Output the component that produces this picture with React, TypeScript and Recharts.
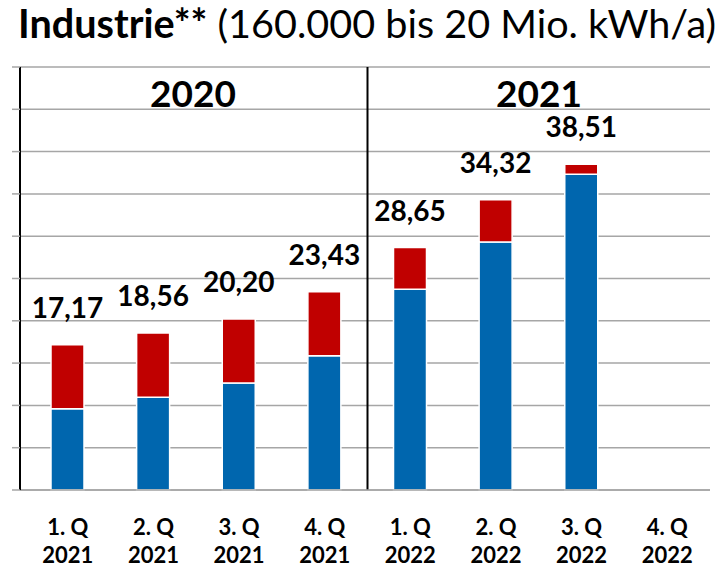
import { BarChart, Bar, XAxis, YAxis, CartesianGrid, ReferenceLine, LabelList } from "recharts";

const quarters = ["1. Q", "2. Q", "3. Q", "4. Q", "1. Q", "2. Q", "3. Q", "4. Q"];
const years = ["2021", "2021", "2021", "2021", "2022", "2022", "2022", "2022"];
const blueValues = [9.6, 10.96, 12.65, 15.88, 23.72, 29.31, 37.31, null];
const redValues = [7.57, 7.6, 7.55, 7.55, 4.93, 5.01, 1.2, null];
const totals = ["17,17", "18,56", "20,20", "23,43", "28,65", "34,32", "38,51", ""];
const periods = ["2020", "2021"];
const yTicks = [0, 5, 10, 15, 20, 25, 30, 35, 40, 45, 50];

const data = quarters.map((q, i) => ({
  cat: `${q} ${years[i]}`,
  quarter: q,
  year: years[i],
  blue: blueValues[i],
  red: redValues[i],
  total: totals[i],
}));

const FONT = "Lato, 'Open Sans', sans-serif";

const QuarterTick = (props) => {
  const { x, y, payload } = props;
  const row = data[payload.index] || data.find((d) => d.cat === payload.value);
  return (
    <text x={x} textAnchor="middle" fontFamily={FONT} fontWeight="bold" fontSize={22} fill="#000">
      <tspan x={x} y={y + 37}>{row.quarter}</tspan>
      <tspan x={x} y={y + 65}>{row.year}</tspan>
    </text>
  );
};

export default function App() {
  return (
    <div style={{ position: "absolute", left: 0, top: 0, width: 721, height: 566, background: "#fff" }}>
      <svg width={721} height={566} style={{ position: "absolute", left: 0, top: 0 }}>
        <text x={18} y={38} fontFamily={FONT} fontSize={39.6} fill="#000">
          <tspan fontWeight="bold">Industrie**</tspan>
          <tspan> (160.000 bis 20 Mio. kWh/a)</tspan>
        </text>
      </svg>
      <div style={{ position: "absolute", left: 0, top: 0 }}>
        <BarChart
          width={721}
          height={566}
          data={data}
          margin={{ top: 67, right: 11, bottom: 0, left: 0 }}
          barSize={33}
        >
          <CartesianGrid vertical={false} stroke="#a6a6a6" strokeWidth={1.5} />
          <XAxis
            dataKey="cat"
            height={76}
            padding={{ left: 5, right: 0 }}
            axisLine={{ stroke: "#a6a6a6", strokeWidth: 1.5 }}
            tickLine={false}
            tick={<QuarterTick />}
            interval={0}
          />
          <YAxis
            width={20}
            domain={[0, 50]}
            ticks={yTicks}
            tickSize={8}
            axisLine={{ stroke: "#000", strokeWidth: 2 }}
            tickLine={{ stroke: "#a6a6a6", strokeWidth: 1.5 }}
            tick={() => <g />}
          />
          <ReferenceLine x="4. Q 2021" position="end" stroke="#000" strokeWidth={2} />
          <Bar dataKey="blue" stackId="a" fill="#0066AE" stroke="#ffffff" strokeWidth={1.5} isAnimationActive={false} />
          <Bar dataKey="red" stackId="a" fill="#C00000" stroke="#ffffff" strokeWidth={1.5} isAnimationActive={false}>
            <LabelList
              dataKey="total"
              position="top"
              offset={27}
              fill="#000"
              fontFamily={FONT}
              fontWeight="bold"
              fontSize={28}
            />
          </Bar>
        </BarChart>
      </div>
      <svg width={721} height={566} style={{ position: "absolute", left: 0, top: 0, pointerEvents: "none" }}>
        <text x={193} y={107} textAnchor="middle" fontFamily={FONT} fontWeight="bold" fontSize={37} fill="#000">
          {periods[0]}
        </text>
        <text x={539} y={107} textAnchor="middle" fontFamily={FONT} fontWeight="bold" fontSize={37} fill="#000">
          {periods[1]}
        </text>
      </svg>
    </div>
  );
}
